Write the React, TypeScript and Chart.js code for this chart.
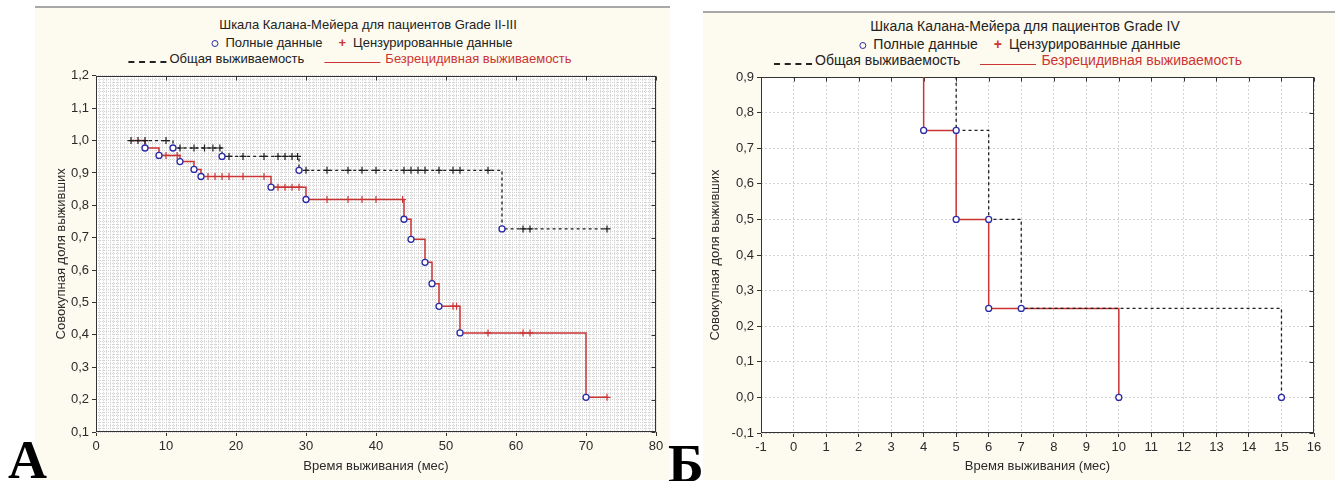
import React, { useEffect, useRef } from "react";
import { Chart, registerables } from "chart.js";
Chart.register(...registerables);

const FONT = '"Liberation Sans", Arial, Helvetica, sans-serif';
Chart.defaults.font.family = FONT;

// ---------------- Panel A: Grade II-III ----------------
const aXLabels = [0, 10, 20, 30, 40, 50, 60, 70, 80];
const aYLabels = [0.1, 0.2, 0.3, 0.4, 0.5, 0.6, 0.7, 0.8, 0.9, 1.0, 1.1, 1.2];
// overall survival (black dashed)
const aOsTimes = [5, 11, 18, 29, 58, 73];
const aOsSurv = [1.0, 0.977, 0.951, 0.908, 0.727, 0.727];
const aOsEvents = [11, 18, 29, 58];
const aOsCensored = [5, 6, 7, 10, 12, 14, 15.5, 16.7, 17.7, 19, 21, 24, 26, 27, 28, 28.8, 30, 33, 36, 38, 40, 44, 45, 46, 47, 49, 51, 52, 56, 61, 62, 73];
// recurrence-free survival (red solid)
const aRfsTimes = [5, 7, 9, 12, 14, 15, 25, 30, 44, 45, 47, 48, 49, 52, 70, 73];
const aRfsSurv = [1.0, 0.977, 0.954, 0.935, 0.911, 0.889, 0.856, 0.818, 0.757, 0.695, 0.624, 0.558, 0.488, 0.406, 0.207, 0.207];
const aRfsEvents = [7, 9, 12, 14, 15, 25, 30, 44, 45, 47, 48, 49, 52, 70];
const aRfsCensored = [10, 11.6, 16, 17, 18, 19, 21, 24, 26, 27, 28, 29, 33, 36, 38, 40, 43.8, 51, 51.5, 56, 61, 62, 73];

// ---------------- Panel B: Grade IV ----------------
const bXLabels = [-1, 0, 1, 2, 3, 4, 5, 6, 7, 8, 9, 10, 11, 12, 13, 14, 15, 16];
const bYLabels = [-0.1, 0.0, 0.1, 0.2, 0.3, 0.4, 0.5, 0.6, 0.7, 0.8, 0.9];
const bOsTimes = [0, 5, 6, 7, 15];
const bOsSurv = [1.0, 0.75, 0.5, 0.25, 0.0];
const bOsEvents = [5, 6, 7, 15];
const bRfsTimes = [0, 4, 5, 6, 10];
const bRfsSurv = [1.0, 0.75, 0.5, 0.25, 0.0];
const bRfsEvents = [4, 5, 6, 10];

const RED = "#cc3333";
const BLUE = "#2b2ba6";
const BLACK = "#1e1e1e";

function survAt(times: number[], surv: number[], t: number) {
  let v = surv[0];
  for (let i = 0; i < times.length; i++) if (times[i] <= t + 1e-9) v = surv[i];
  return v;
}
const curve = (times: number[], surv: number[]) => times.map((t, i) => ({ x: t, y: surv[i] }));
const marks = (list: number[], times: number[], surv: number[]) => list.map((t) => ({ x: t, y: survAt(times, surv, t) }));
const inList = (list: number[], v: number) => list.some((l) => Math.abs(l - v) < 1e-6);
const comma = (v: number) => (Math.round(v * 10) / 10).toFixed(1).replace(".", ",");

const framePlugin = {
  id: "frame",
  beforeDraw(chart: any) {
    const { ctx, chartArea: a } = chart;
    ctx.save();
    ctx.fillStyle = "#ffffff";
    ctx.fillRect(a.left, a.top, a.width, a.height);
    ctx.restore();
  },
  beforeDatasetsDraw(chart: any, _args: any, opts: any) {
    const { ctx, chartArea: a, scales } = chart;
    ctx.save();
    ctx.strokeStyle = "#333";
    ctx.lineWidth = 1;
    const L = Math.round(a.left) + 0.5, T = Math.round(a.top) + 0.5;
    const R = Math.round(a.right) - 0.5, B = Math.round(a.bottom) - 0.5;
    ctx.strokeRect(L, T, R - L, B - T);
    ctx.beginPath();
    (opts.xLabels || []).forEach((v: number) => {
      const px = Math.round(scales.x.getPixelForValue(v)) + 0.5;
      ctx.moveTo(px, T); ctx.lineTo(px, T + 4);
    });
    (opts.yLabels || []).forEach((v: number) => {
      const py = Math.round(scales.y.getPixelForValue(v)) + 0.5;
      ctx.moveTo(R, py); ctx.lineTo(R - 4, py);
    });
    ctx.stroke();
    ctx.restore();
  },
};

function lineDs(data: any[], color: string, dash: number[], width: number) {
  return { data, borderColor: color, borderWidth: width, borderDash: dash, stepped: "before", pointRadius: 0, fill: false, order: 3 };
}
function circleDs(data: any[]) {
  return { data, showLine: false, pointStyle: "circle", pointRadius: 3, pointBackgroundColor: "#ffffff", pointBorderColor: BLUE, pointBorderWidth: 1.3, order: 0 };
}
function crossDs(data: any[], color: string) {
  return { data, showLine: false, pointStyle: "cross", pointRadius: 3.5, pointBorderColor: color, pointBorderWidth: 1.2, order: 1 };
}

function makeConfig(p: any) {
  const tickFont = { size: 13, family: FONT };
  return {
    type: "line",
    data: { datasets: p.datasets },
    options: {
      responsive: false,
      animation: false,
      events: [],
      layout: { padding: p.padding },
      plugins: { legend: { display: false }, tooltip: { enabled: false }, frame: { xLabels: p.xLabels, yLabels: p.yLabels } },
      scales: {
        x: {
          type: "linear",
          min: p.xMin, max: p.xMax,
          ticks: {
            stepSize: p.xStep, autoSkip: false, maxRotation: 0, padding: 3, color: "#2a2a2a", font: tickFont,
            callback: (v: number) => (inList(p.xLabels, v) ? String(Math.round(v)) : ""),
          },
          grid: {
            color: p.gridColor, lineWidth: 1, tickLength: 4,
            tickColor: (c: any) => (inList(p.xLabels, c.tick.value) ? "#333" : "rgba(0,0,0,0)"),
          },
          border: { display: false, dash: p.gridDash },
          title: { display: true, text: "Время выживания (мес)", color: "#2a2a2a", font: { size: 13, family: FONT } },
          afterFit: (s: any) => { s.height = p.xHeight; },
        },
        y: {
          type: "linear",
          min: p.yMin, max: p.yMax,
          ticks: {
            stepSize: p.yStep, autoSkip: false, padding: 3, color: "#2a2a2a", font: tickFont,
            callback: (v: number) => (inList(p.yLabels, v) ? comma(v) : ""),
          },
          grid: {
            color: p.gridColor, lineWidth: 1, tickLength: 4,
            tickColor: (c: any) => (inList(p.yLabels, c.tick.value) ? "#333" : "rgba(0,0,0,0)"),
          },
          border: { display: false, dash: p.gridDash },
          title: { display: true, text: "Совокупная доля выживших", color: "#2a2a2a", font: { size: 13, family: FONT } },
          afterFit: (s: any) => { s.width = p.yWidth; },
        },
      },
    },
    plugins: [framePlugin],
  };
}

function KMChart({ left, top, width, height, cfg }: any) {
  const ref = useRef<HTMLCanvasElement>(null);
  useEffect(() => {
    const chart = new Chart(ref.current as HTMLCanvasElement, cfg() as any);
    return () => chart.destroy();
  }, []);
  return (
    <canvas ref={ref} width={width} height={height}
      style={{ position: "absolute", left, top, width, height, display: "block" }} />
  );
}

const cfgA = () =>
  makeConfig({
    xMin: 0, xMax: 80, xStep: 0.5, yMin: 0.1, yMax: 1.2, yStep: 0.01,
    xLabels: aXLabels, yLabels: aYLabels,
    gridColor: "#d2d2d2", gridDash: [1, 1],
    padding: { left: 15, top: 8, right: 14, bottom: 0 },
    yWidth: 46, xHeight: 46,
    datasets: [
      lineDs(curve(aOsTimes, aOsSurv), BLACK, [3, 3], 1.3),
      lineDs(curve(aRfsTimes, aRfsSurv), RED, [], 1.5),
      crossDs(marks(aOsCensored, aOsTimes, aOsSurv), BLACK),
      crossDs(marks(aRfsCensored, aRfsTimes, aRfsSurv), RED),
      circleDs(marks(aOsEvents, aOsTimes, aOsSurv)),
      circleDs(marks(aRfsEvents, aRfsTimes, aRfsSurv)),
    ],
  });

const cfgB = () =>
  makeConfig({
    xMin: -1, xMax: 16, xStep: 1, yMin: -0.1, yMax: 0.9, yStep: 0.1,
    xLabels: bXLabels, yLabels: bYLabels,
    gridColor: "#d4d4d4", gridDash: [2, 2],
    padding: { left: 1, top: 12, right: 21, bottom: 0 },
    yWidth: 57, xHeight: 45,
    datasets: [
      lineDs(curve(bOsTimes, bOsSurv), BLACK, [3, 3], 1.3),
      lineDs(curve(bRfsTimes, bRfsSurv), RED, [], 1.5),
      circleDs(marks(bOsEvents, bOsTimes, bOsSurv)),
      circleDs(marks(bRfsEvents, bRfsTimes, bRfsSurv)),
    ],
  });

function Header({ cx, cx1, cx2, title, size, y0 }: any) {
  const row: any = { position: "absolute", transform: "translateX(-50%)", whiteSpace: "nowrap", fontFamily: FONT, fontSize: size, lineHeight: "16px", color: "#222" };
  return (
    <>
      <div style={{ ...row, left: cx, top: y0 }}>{title}</div>
      <div style={{ ...row, left: cx1, top: y0 + 18 }}>
        <span style={{ display: "inline-block", width: 5, height: 5, border: `1.5px solid ${BLUE}`, borderRadius: "50%", marginRight: 7, verticalAlign: "middle" }} />
        Полные данные
        <span style={{ color: RED, fontWeight: "bold", margin: "0 7px 0 16px" }}>+</span>
        Цензурированные данные
      </div>
      <div style={{ ...row, left: cx2, top: y0 + 34 }}>
        <span style={{ display: "inline-block", width: 38, height: 0, borderBottom: "2px dashed #222", marginRight: 3, verticalAlign: "baseline" }} />
        Общая выживаемость
        <span style={{ display: "inline-block", width: 56, height: 0, borderBottom: `1.5px solid ${RED}`, margin: "0 5px 0 20px", verticalAlign: "baseline" }} />
        <span style={{ color: RED }}>Безрецидивная выживаемость</span>
      </div>
    </>
  );
}

export default function App() {
  const letter: any = { position: "absolute", fontFamily: '"Liberation Serif", "Times New Roman", serif', fontWeight: "bold", fontSize: 54, lineHeight: "54px", color: "#000" };
  return (
    <div style={{ position: "absolute", left: 0, top: 0, width: 1335, height: 481, overflow: "hidden", background: "#ffffff" }}>
      <div style={{ position: "absolute", left: 35, top: 6, width: 635, height: 472, background: "#fdfbf0", borderTop: "2px solid #a8a8a8" }} />
      <div style={{ position: "absolute", left: 703, top: 11, width: 632, height: 467, background: "#fdfbf0", borderTop: "2px solid #a8a8a8" }} />
      <Header cx={368} cx1={362} cx2={350} y0={17} size={13} title="Шкала Калана-Мейера для пациентов Grade II-III" />
      <Header cx={1025} cx1={1020} cx2={1008} y0={18} size={14} title="Шкала Калана-Мейера для пациентов Grade IV" />
      <KMChart left={35} top={65} width={635} height={413} cfg={cfgA} />
      <KMChart left={703} top={65} width={632} height={413} cfg={cfgB} />
      <div style={{ ...letter, left: 8, top: 433 }}>А</div>
      <div style={{ ...letter, left: 668, top: 437 }}>Б</div>
    </div>
  );
}
